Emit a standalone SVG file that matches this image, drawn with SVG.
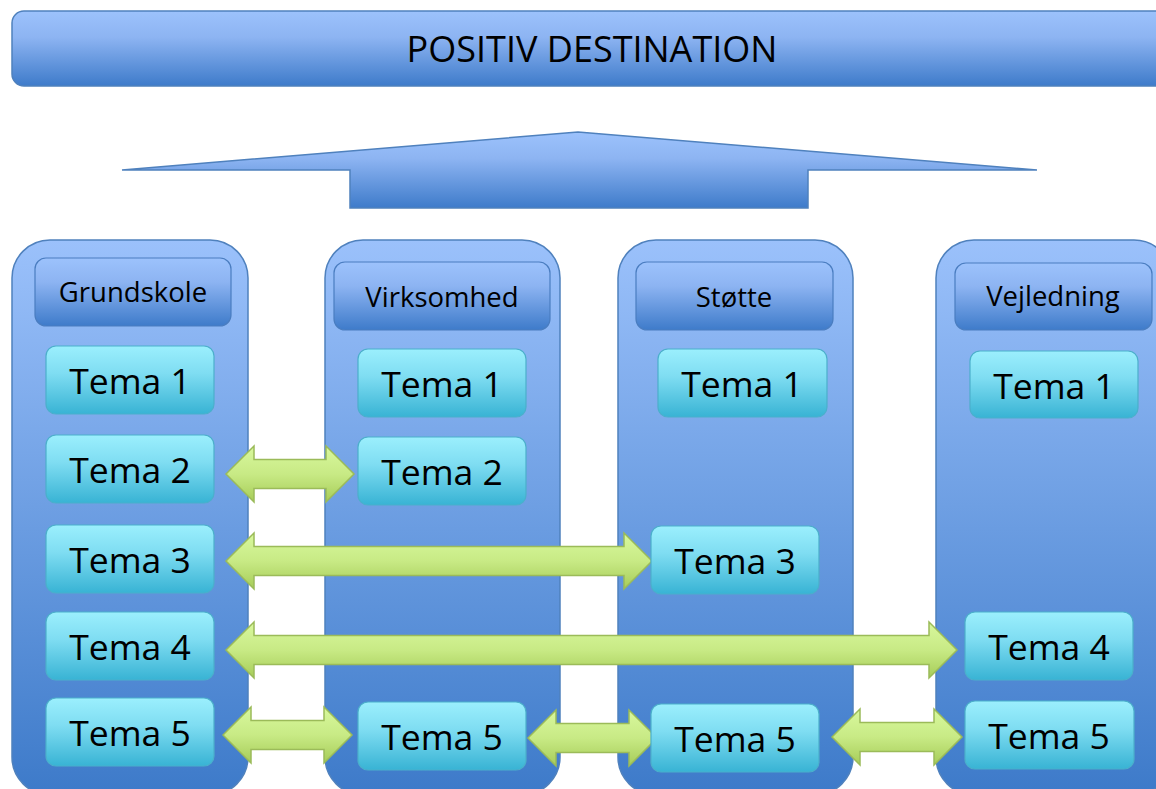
<svg xmlns="http://www.w3.org/2000/svg" width="1156" height="789" viewBox="0 0 1156 789">
<defs>
<linearGradient id="gBlue" x1="0" y1="0" x2="0" y2="1">
<stop offset="0" stop-color="#9CC2FC"/>
<stop offset="0.35" stop-color="#8DB4F2"/>
<stop offset="1" stop-color="#3E7BCA"/>
</linearGradient>
<linearGradient id="gCol" x1="0" y1="0" x2="0" y2="1">
<stop offset="0" stop-color="#9BC1FB"/>
<stop offset="1" stop-color="#3D7AC9"/>
</linearGradient>
<linearGradient id="gTema" x1="0" y1="0" x2="0" y2="1">
<stop offset="0" stop-color="#9BEFFD"/>
<stop offset="0.4" stop-color="#7FDDF2"/>
<stop offset="1" stop-color="#38B3D4"/>
</linearGradient>
<linearGradient id="gArrow" x1="0" y1="0" x2="0" y2="1">
<stop offset="0" stop-color="#D8F89D"/>
<stop offset="0.5" stop-color="#C8EA85"/>
<stop offset="1" stop-color="#A6CC58"/>
</linearGradient>
</defs>
<style>
.banner{fill:url(#gBlue);stroke:#4F81BD;stroke-width:1.5}
.col{fill:url(#gCol);stroke:#4F81BD;stroke-width:1.5}
.hdr{fill:url(#gBlue);stroke:#4A7DC0;stroke-width:1.2}
.tema{fill:url(#gTema);stroke:#4BAFCB;stroke-width:1.2}
.arr{fill:url(#gArrow);stroke:#9BBB59;stroke-width:1.5;stroke-linejoin:miter}
.t{font-family:"Open Sans","Liberation Sans",sans-serif;fill:#000;text-anchor:middle}
.title{font-size:36px}
.h{font-size:27.5px}
.tm{font-size:35.5px}
</style>
<g id="banner">
<rect class="banner" x="12" y="11" width="1170" height="75" rx="12"/>
<text class="t title" x="592" y="62">POSITIV DESTINATION</text>
</g>
<g id="up-arrow">
<polygon class="banner" points="122,170 578,132 1037,170 808,170 808,208 350,208 350,170"/>
</g>
<g id="col-grundskole">
<rect class="col" x="12" y="240" width="236" height="555" rx="38"/>
<rect class="hdr" x="35" y="258" width="196" height="68" rx="11"/>
<text class="t h" x="133" y="302">Grundskole</text>
</g>
<g id="col-virksomhed">
<rect class="col" x="325" y="240" width="235" height="555" rx="38"/>
<rect class="hdr" x="334" y="262" width="216" height="68" rx="11"/>
<text class="t h" x="442" y="307">Virksomhed</text>
</g>
<g id="col-stotte">
<rect class="col" x="618" y="240" width="235" height="555" rx="38"/>
<rect class="hdr" x="636" y="262" width="197" height="68" rx="11"/>
<text class="t h" x="734" y="307">Støtte</text>
</g>
<g id="col-vejledning">
<rect class="col" x="936" y="240" width="236" height="555" rx="38"/>
<rect class="hdr" x="955" y="263" width="197" height="67" rx="11"/>
<text class="t h" x="1053" y="306">Vejledning</text>
</g>
<g id="connectors">
<path class="arr" d="M226,474 L254,446 L254,459.5 L326,459.5 L326,446 L354,474 L326,502 L326,488.5 L254,488.5 L254,502 Z"/>
<path class="arr" d="M226,561 L254,533 L254,546.5 L624,546.5 L624,533 L652,561 L624,589 L624,575.5 L254,575.5 L254,589 Z"/>
<path class="arr" d="M226,650 L254,622 L254,635.5 L929,635.5 L929,622 L957,650 L929,678 L929,664.5 L254,664.5 L254,678 Z"/>
<path class="arr" d="M223,735 L251,707 L251,720.5 L324,720.5 L324,707 L352,735 L324,763 L324,749.5 L251,749.5 L251,763 Z"/>
<path class="arr" d="M528,738 L556,710 L556,723.5 L629,723.5 L629,710 L657,738 L629,766 L629,752.5 L556,752.5 L556,766 Z"/>
<path class="arr" d="M832,737 L860,709 L860,722.5 L934,722.5 L934,709 L962,737 L934,765 L934,751.5 L860,751.5 L860,765 Z"/>
</g>
<g id="g-tema1"><rect class="tema" x="46" y="346" width="168" height="68" rx="10"/><text class="t tm" x="130" y="394">Tema 1</text></g>
<g id="g-tema2"><rect class="tema" x="46" y="435" width="168" height="68" rx="10"/><text class="t tm" x="130" y="483">Tema 2</text></g>
<g id="g-tema3"><rect class="tema" x="46" y="525" width="168" height="68" rx="10"/><text class="t tm" x="130" y="573">Tema 3</text></g>
<g id="g-tema4"><rect class="tema" x="46" y="612" width="168" height="68" rx="10"/><text class="t tm" x="130" y="660">Tema 4</text></g>
<g id="g-tema5"><rect class="tema" x="46" y="698" width="168" height="68" rx="10"/><text class="t tm" x="130" y="746">Tema 5</text></g>
<g id="v-tema1"><rect class="tema" x="358" y="349" width="168" height="68" rx="10"/><text class="t tm" x="442" y="397">Tema 1</text></g>
<g id="v-tema2"><rect class="tema" x="358" y="437" width="168" height="68" rx="10"/><text class="t tm" x="442" y="485">Tema 2</text></g>
<g id="v-tema5"><rect class="tema" x="358" y="702" width="168" height="68" rx="10"/><text class="t tm" x="442" y="750">Tema 5</text></g>
<g id="s-tema1"><rect class="tema" x="658" y="349" width="169" height="68" rx="10"/><text class="t tm" x="742" y="397">Tema 1</text></g>
<g id="s-tema3"><rect class="tema" x="651" y="526" width="168" height="68" rx="10"/><text class="t tm" x="735" y="574">Tema 3</text></g>
<g id="s-tema5"><rect class="tema" x="651" y="704" width="168" height="68" rx="10"/><text class="t tm" x="735" y="752">Tema 5</text></g>
<g id="vj-tema1"><rect class="tema" x="970" y="351" width="168" height="67" rx="10"/><text class="t tm" x="1054" y="399">Tema 1</text></g>
<g id="vj-tema4"><rect class="tema" x="965" y="612" width="168" height="68" rx="10"/><text class="t tm" x="1049" y="660">Tema 4</text></g>
<g id="vj-tema5"><rect class="tema" x="965" y="701" width="169" height="68" rx="10"/><text class="t tm" x="1049" y="749">Tema 5</text></g>
</svg>
